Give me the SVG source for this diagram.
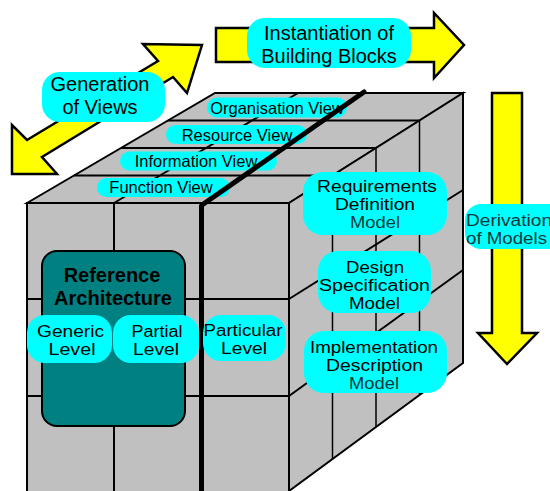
<svg xmlns="http://www.w3.org/2000/svg" width="550" height="491" viewBox="0 0 550 491">
<style>
.face{fill:#c0c0c0;stroke:#000;stroke-width:2;stroke-linejoin:miter}
.grid{stroke:#000;stroke-width:2;fill:none}
.thin{stroke:#000;stroke-width:1.5;fill:none}
.thick{stroke:#000;stroke-width:5;fill:none}
.arrow{fill:#ffff00;stroke:#000;stroke-width:2.5;stroke-linejoin:miter}
.pill{fill:#00ffff}
.t{font-family:"Liberation Sans",Arial,sans-serif;fill:#000;text-anchor:middle}
.v{font-size:16.5px}
.m{font-size:16px}
.l{font-size:20px}
.dim{fill:#063a3a}
</style>
<rect width="550" height="491" fill="#fff"/>
<g id="cube">
  <polygon class="face" points="27,203 215,93 463,93 289,203"/>
  <polygon class="face" points="289,203 463,93 463,363 289,491"/>
  <rect class="face" x="27" y="203" width="262" height="290"/>
  <line class="grid" x1="74" y1="175.5" x2="332.5" y2="175.5"/>
  <line class="grid" x1="121" y1="148" x2="376" y2="148"/>
  <line class="grid" x1="168" y1="120.5" x2="419.5" y2="120.5"/>
  <line class="grid" x1="114" y1="203" x2="298" y2="93"/>
  <line class="grid" x1="114" y1="203" x2="114" y2="491"/>
  <line class="grid" x1="27" y1="299" x2="289" y2="299"/>
  <line class="grid" x1="27" y1="396" x2="289" y2="396"/>
  <line class="thin" x1="332.5" y1="175.5" x2="332.5" y2="459"/>
  <line class="thin" x1="376" y1="148" x2="376" y2="427"/>
  <line class="thin" x1="419.5" y1="120.5" x2="419.5" y2="395"/>
  <line class="grid" x1="289" y1="299" x2="463" y2="190"/>
  <line class="grid" x1="289" y1="396" x2="463" y2="270"/>
  <line class="thick" x1="201.5" y1="205" x2="201.5" y2="491"/>
</g>
<g id="connectors">
  <polygon id="arrow-generation" class="arrow" points="202,45 187,93 173,77 42,157 57,174 12,174 12,125 27,140 158,61 143,44"/>
  <polygon id="arrow-instantiation" class="arrow" points="216,28 434,28 434,13 464,45 434,78 434,62 216,62"/>
  <polygon id="arrow-derivation" class="arrow" points="492,93 522,93 522,333 537,333 507,364 478,333 492,333"/>
</g>
<g id="node-generation">
  <rect class="pill" x="42" y="72" width="123" height="50" rx="18"/>
  <text class="t l" x="100" y="91">Generation</text>
  <text class="t l" x="100" y="114">of Views</text>
</g>
<g id="node-instantiation">
  <rect class="pill" x="247" y="18" width="164" height="50" rx="18"/>
  <text class="t l" x="329" y="40">Instantiation of</text>
  <text class="t l" x="329" y="63">Building Blocks</text>
</g>
<g id="node-organisation-view">
  <rect class="pill" x="207" y="97.5" width="140" height="20" rx="10"/>
  <text class="t v" x="277" y="114">Organisation View</text>
</g>
<g id="node-resource-view">
  <rect class="pill" x="166" y="125" width="141" height="19" rx="9.5"/>
  <text class="t v" x="237" y="141">Resource View</text>
</g>
<g id="node-information-view">
  <rect class="pill" x="120" y="151.5" width="157" height="19" rx="9.5"/>
  <text class="t v" x="196" y="166.5">Information View</text>
</g>
<g id="node-function-view">
  <rect class="pill" x="97" y="178" width="133" height="19" rx="9.5"/>
  <text class="t v" x="161" y="192.5">Function View</text>
</g>
<line class="thick" x1="202" y1="205" x2="364" y2="92" stroke-linecap="round"/>
<g id="node-reference-architecture">
  <rect x="42" y="251" width="143" height="175" rx="15" fill="#008080" stroke="#000" stroke-width="2"/>
  <text class="t l" x="112" y="282" font-weight="bold">Reference</text>
  <text class="t l" x="113" y="305" font-weight="bold">Architecture</text>
</g>
<g id="node-generic-level">
  <rect class="pill" x="27" y="315" width="85" height="48" rx="18"/>
  <text class="t m" x="70.5" y="337" textLength="67" lengthAdjust="spacingAndGlyphs">Generic</text>
  <text class="t m" x="72" y="355" textLength="47" lengthAdjust="spacingAndGlyphs">Level</text>
</g>
<g id="node-partial-level">
  <rect class="pill" x="113" y="315" width="86" height="48" rx="18"/>
  <text class="t m" x="157" y="337" textLength="51" lengthAdjust="spacingAndGlyphs">Partial</text>
  <text class="t m" x="156" y="355" textLength="46" lengthAdjust="spacingAndGlyphs">Level</text>
</g>
<g id="node-particular-level">
  <rect class="pill" x="203" y="315" width="83" height="46" rx="18"/>
  <text class="t m" x="243" y="336" textLength="79" lengthAdjust="spacingAndGlyphs">Particular</text>
  <text class="t m" x="244" y="354" textLength="46" lengthAdjust="spacingAndGlyphs">Level</text>
</g>
<g id="node-requirements">
  <rect class="pill" x="303" y="172" width="144" height="63" rx="20"/>
  <text class="t m" x="377" y="191.5" textLength="120" lengthAdjust="spacingAndGlyphs">Requirements</text>
  <text class="t m" x="375" y="209.5" textLength="80" lengthAdjust="spacingAndGlyphs">Definition</text>
  <text class="t m dim" x="375" y="227.5" textLength="50" lengthAdjust="spacingAndGlyphs">Model</text>
</g>
<g id="node-design">
  <rect class="pill" x="318" y="251" width="113" height="62" rx="20"/>
  <text class="t m" x="375" y="273" textLength="58" lengthAdjust="spacingAndGlyphs">Design</text>
  <text class="t m" x="374.5" y="291" textLength="111" lengthAdjust="spacingAndGlyphs">Specification</text>
  <text class="t m" x="374.5" y="309" textLength="51" lengthAdjust="spacingAndGlyphs">Model</text>
</g>
<g id="node-implementation">
  <rect class="pill" x="304" y="331" width="143" height="62" rx="20"/>
  <text class="t m" x="374" y="353" textLength="128" lengthAdjust="spacingAndGlyphs">Implementation</text>
  <text class="t m" x="374.5" y="371" textLength="97" lengthAdjust="spacingAndGlyphs">Description</text>
  <text class="t m dim" x="374" y="389" textLength="50" lengthAdjust="spacingAndGlyphs">Model</text>
</g>
<g id="node-derivation">
  <rect class="pill" x="465" y="204" width="100" height="45" rx="16"/>
  <text class="t m dim" x="466" y="226" style="text-anchor:start" textLength="86" lengthAdjust="spacingAndGlyphs">Derivation</text>
  <text class="t m dim" x="466" y="244" style="text-anchor:start" textLength="81" lengthAdjust="spacingAndGlyphs">of Models</text>
</g>
</svg>
